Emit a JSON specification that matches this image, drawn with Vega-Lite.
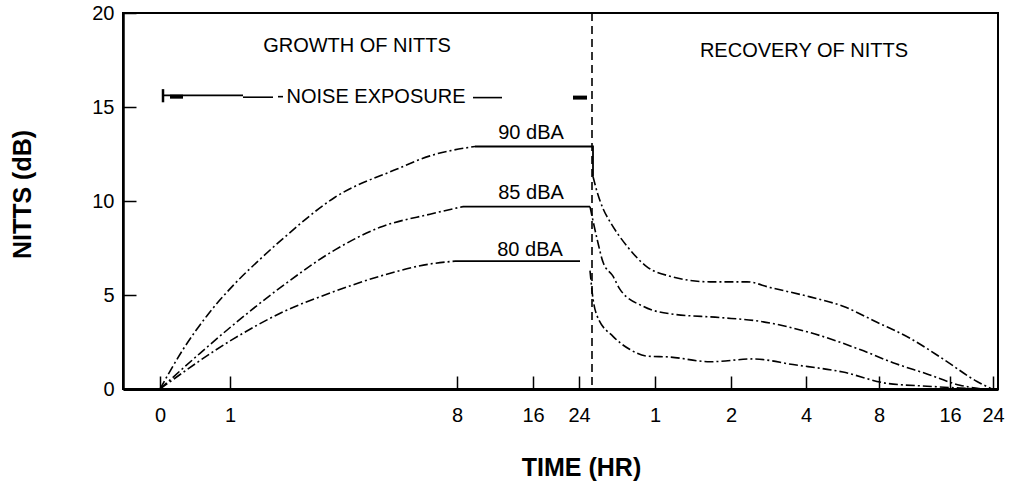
{
  "$schema": "https://vega.github.io/schema/vega-lite/v6.json",
  "autosize": {"type": "none"},
  "padding": {"left": 123, "top": 13, "right": 14, "bottom": 97},
  "width": 875,
  "height": 376,
  "background": "white",
  "config": {
    "view": {"stroke": "black", "strokeWidth": 2},
    "font": "Liberation Sans",
    "axis": {"grid": false, "domainColor": "black", "tickColor": "black", "labelColor": "black", "titleColor": "black", "labelFont": "Liberation Sans", "titleFont": "Liberation Sans"}
  },
  "datasets": {
    "curves": [
      {"seg": "g90", "t": 37, "nitts": 0},
      {"seg": "g90", "t": 60, "nitts": 2.1},
      {"seg": "g90", "t": 84, "nitts": 3.9},
      {"seg": "g90", "t": 110, "nitts": 5.5},
      {"seg": "g90", "t": 137, "nitts": 6.9},
      {"seg": "g90", "t": 160, "nitts": 8.0},
      {"seg": "g90", "t": 212, "nitts": 10.2},
      {"seg": "g90", "t": 274, "nitts": 11.7},
      {"seg": "g90", "t": 307, "nitts": 12.4},
      {"seg": "g90", "t": 352, "nitts": 12.9},
      {"seg": "r90", "t": 470, "nitts": 11.3},
      {"seg": "r90", "t": 474, "nitts": 10.5},
      {"seg": "r90", "t": 480, "nitts": 9.6},
      {"seg": "r90", "t": 487, "nitts": 8.9},
      {"seg": "r90", "t": 504, "nitts": 7.6},
      {"seg": "r90", "t": 524, "nitts": 6.5},
      {"seg": "r90", "t": 547, "nitts": 6.0},
      {"seg": "r90", "t": 587, "nitts": 5.7},
      {"seg": "r90", "t": 624, "nitts": 5.7},
      {"seg": "r90", "t": 647, "nitts": 5.4},
      {"seg": "r90", "t": 687, "nitts": 4.9},
      {"seg": "r90", "t": 720, "nitts": 4.4},
      {"seg": "r90", "t": 754, "nitts": 3.55},
      {"seg": "r90", "t": 787, "nitts": 2.7},
      {"seg": "r90", "t": 820, "nitts": 1.6},
      {"seg": "r90", "t": 854, "nitts": 0.4},
      {"seg": "r90", "t": 869, "nitts": 0},
      {"seg": "g85", "t": 37, "nitts": 0},
      {"seg": "g85", "t": 77, "nitts": 1.9},
      {"seg": "g85", "t": 110, "nitts": 3.4},
      {"seg": "g85", "t": 160, "nitts": 5.5},
      {"seg": "g85", "t": 212, "nitts": 7.4},
      {"seg": "g85", "t": 257, "nitts": 8.6},
      {"seg": "g85", "t": 307, "nitts": 9.3},
      {"seg": "g85", "t": 340, "nitts": 9.7},
      {"seg": "r85", "t": 467, "nitts": 9.7},
      {"seg": "r85", "t": 474, "nitts": 8.0},
      {"seg": "r85", "t": 480, "nitts": 6.75},
      {"seg": "r85", "t": 490, "nitts": 6.0},
      {"seg": "r85", "t": 497, "nitts": 5.3},
      {"seg": "r85", "t": 520, "nitts": 4.4},
      {"seg": "r85", "t": 547, "nitts": 4.0},
      {"seg": "r85", "t": 597, "nitts": 3.8},
      {"seg": "r85", "t": 637, "nitts": 3.6},
      {"seg": "r85", "t": 687, "nitts": 3.0},
      {"seg": "r85", "t": 737, "nitts": 2.1},
      {"seg": "r85", "t": 770, "nitts": 1.4},
      {"seg": "r85", "t": 804, "nitts": 0.8},
      {"seg": "r85", "t": 837, "nitts": 0.2},
      {"seg": "r85", "t": 859, "nitts": 0},
      {"seg": "g80", "t": 37, "nitts": 0},
      {"seg": "g80", "t": 110, "nitts": 2.65},
      {"seg": "g80", "t": 160, "nitts": 4.1},
      {"seg": "g80", "t": 212, "nitts": 5.2},
      {"seg": "g80", "t": 257, "nitts": 6.0},
      {"seg": "g80", "t": 307, "nitts": 6.65},
      {"seg": "g80", "t": 332, "nitts": 6.8},
      {"seg": "r80", "t": 467, "nitts": 6.3},
      {"seg": "r80", "t": 470, "nitts": 4.8},
      {"seg": "r80", "t": 474, "nitts": 3.9},
      {"seg": "r80", "t": 490, "nitts": 2.8},
      {"seg": "r80", "t": 507, "nitts": 2.1},
      {"seg": "r80", "t": 524, "nitts": 1.75},
      {"seg": "r80", "t": 547, "nitts": 1.7},
      {"seg": "r80", "t": 587, "nitts": 1.45},
      {"seg": "r80", "t": 630, "nitts": 1.6},
      {"seg": "r80", "t": 670, "nitts": 1.3},
      {"seg": "r80", "t": 720, "nitts": 0.9},
      {"seg": "r80", "t": 764, "nitts": 0.3},
      {"seg": "r80", "t": 804, "nitts": 0.15},
      {"seg": "r80", "t": 837, "nitts": 0.05},
      {"seg": "r80", "t": 857, "nitts": 0}
    ],
    "plateaus": [
      {"seg": "p90", "t": 352, "nitts": 12.9},
      {"seg": "p90", "t": 470, "nitts": 12.9},
      {"seg": "p90", "t": 470, "nitts": 11.3},
      {"seg": "p85", "t": 340, "nitts": 9.7},
      {"seg": "p85", "t": 467, "nitts": 9.7},
      {"seg": "p80", "t": 332, "nitts": 6.8},
      {"seg": "p80", "t": 457, "nitts": 6.8}
    ],
    "divider": [{"t": 469}],
    "exposure": [
      {"t1": 40, "t2": 120, "nitts": 15.62},
      {"t1": 120, "t2": 150, "nitts": 15.52},
      {"t1": 155, "t2": 160, "nitts": 15.55},
      {"t1": 350, "t2": 379, "nitts": 15.5}
    ],
    "exposureMarks": [
      {"t1": 47, "t2": 60, "nitts": 15.55},
      {"t1": 450, "t2": 464, "nitts": 15.5}
    ],
    "cap": [{"t": 40, "lo": 15.25, "hi": 15.95}],
    "labels": [
      {"t": 234, "nitts": 18.22, "text": "GROWTH OF NITTS"},
      {"t": 681, "nitts": 17.96, "text": "RECOVERY OF NITTS"},
      {"t": 253, "nitts": 15.55, "text": "NOISE EXPOSURE"},
      {"t": 408, "nitts": 13.62, "text": "90 dBA"},
      {"t": 408, "nitts": 10.43, "text": "85 dBA"},
      {"t": 407, "nitts": 7.39, "text": "80 dBA"}
    ]
  },
  "layer": [
    {
      "data": {"name": "curves"},
      "mark": {"type": "line", "color": "black", "strokeWidth": 1.6, "interpolate": "monotone", "strokeDash": [9, 3, 2, 3]},
      "encoding": {
        "x": {
          "field": "t", "type": "quantitative",
          "scale": {"domain": [0, 875], "nice": false, "zero": false},
          "axis": {
            "title": "TIME (HR)", "titleFontSize": 25, "titleFontWeight": "bold",
            "titleX": 458, "titleY": 78, "titleBaseline": "middle", "titleAlign": "center",
            "values": [37, 107, 334, 410, 456, 532, 608, 683, 756, 827, 870],
            "labelExpr": "datum.value==37?'0':datum.value==107?'1':datum.value==334?'8':datum.value==410?'16':datum.value==456?'24':datum.value==532?'1':datum.value==608?'2':datum.value==683?'4':datum.value==756?'8':datum.value==827?'16':'24'",
            "labelFontSize": 20, "labelPadding": 29, "tickSize": -13, "tickWidth": 1.5,
            "domainWidth": 3, "labelFlush": false, "labelOverlap": false
          }
        },
        "y": {
          "field": "nitts", "type": "quantitative",
          "scale": {"domain": [0, 20], "nice": false},
          "axis": {
            "title": "NITTS (dB)", "titleFontSize": 25, "titleFontWeight": "bold",
            "titleX": -101, "titleY": 181, "titleBaseline": "middle", "titleAlign": "center", "titleAngle": -90,
            "values": [0, 5, 10, 15, 20],
            "labelFontSize": 20, "labelPadding": 22, "tickSize": -13, "tickWidth": 1.5,
            "domainWidth": 2.5, "labelFlush": false, "labelOverlap": false
          }
        },
        "detail": {"field": "seg"}
      }
    },
    {
      "data": {"name": "plateaus"},
      "mark": {"type": "line", "color": "black", "strokeWidth": 1.8},
      "encoding": {
        "x": {"field": "t", "type": "quantitative"},
        "y": {"field": "nitts", "type": "quantitative"},
        "detail": {"field": "seg"},
        "order": {"value": null}
      }
    },
    {
      "data": {"name": "divider"},
      "mark": {"type": "rule", "color": "black", "strokeWidth": 1.6, "strokeDash": [8, 5]},
      "encoding": {"x": {"field": "t", "type": "quantitative"}}
    },
    {
      "data": {"name": "exposure"},
      "mark": {"type": "rule", "color": "black", "strokeWidth": 1.6},
      "encoding": {
        "x": {"field": "t1", "type": "quantitative"},
        "x2": {"field": "t2"},
        "y": {"field": "nitts", "type": "quantitative"}
      }
    },
    {
      "data": {"name": "exposureMarks"},
      "mark": {"type": "rule", "color": "black", "strokeWidth": 4},
      "encoding": {
        "x": {"field": "t1", "type": "quantitative"},
        "x2": {"field": "t2"},
        "y": {"field": "nitts", "type": "quantitative"}
      }
    },
    {
      "data": {"name": "cap"},
      "mark": {"type": "rule", "color": "black", "strokeWidth": 2.5},
      "encoding": {
        "x": {"field": "t", "type": "quantitative"},
        "y": {"field": "lo", "type": "quantitative"},
        "y2": {"field": "hi"}
      }
    },
    {
      "data": {"name": "labels"},
      "mark": {"type": "text", "color": "black", "fontSize": 20, "baseline": "middle", "align": "center", "font": "Liberation Sans"},
      "encoding": {
        "x": {"field": "t", "type": "quantitative"},
        "y": {"field": "nitts", "type": "quantitative"},
        "text": {"field": "text"}
      }
    }
  ]
}
